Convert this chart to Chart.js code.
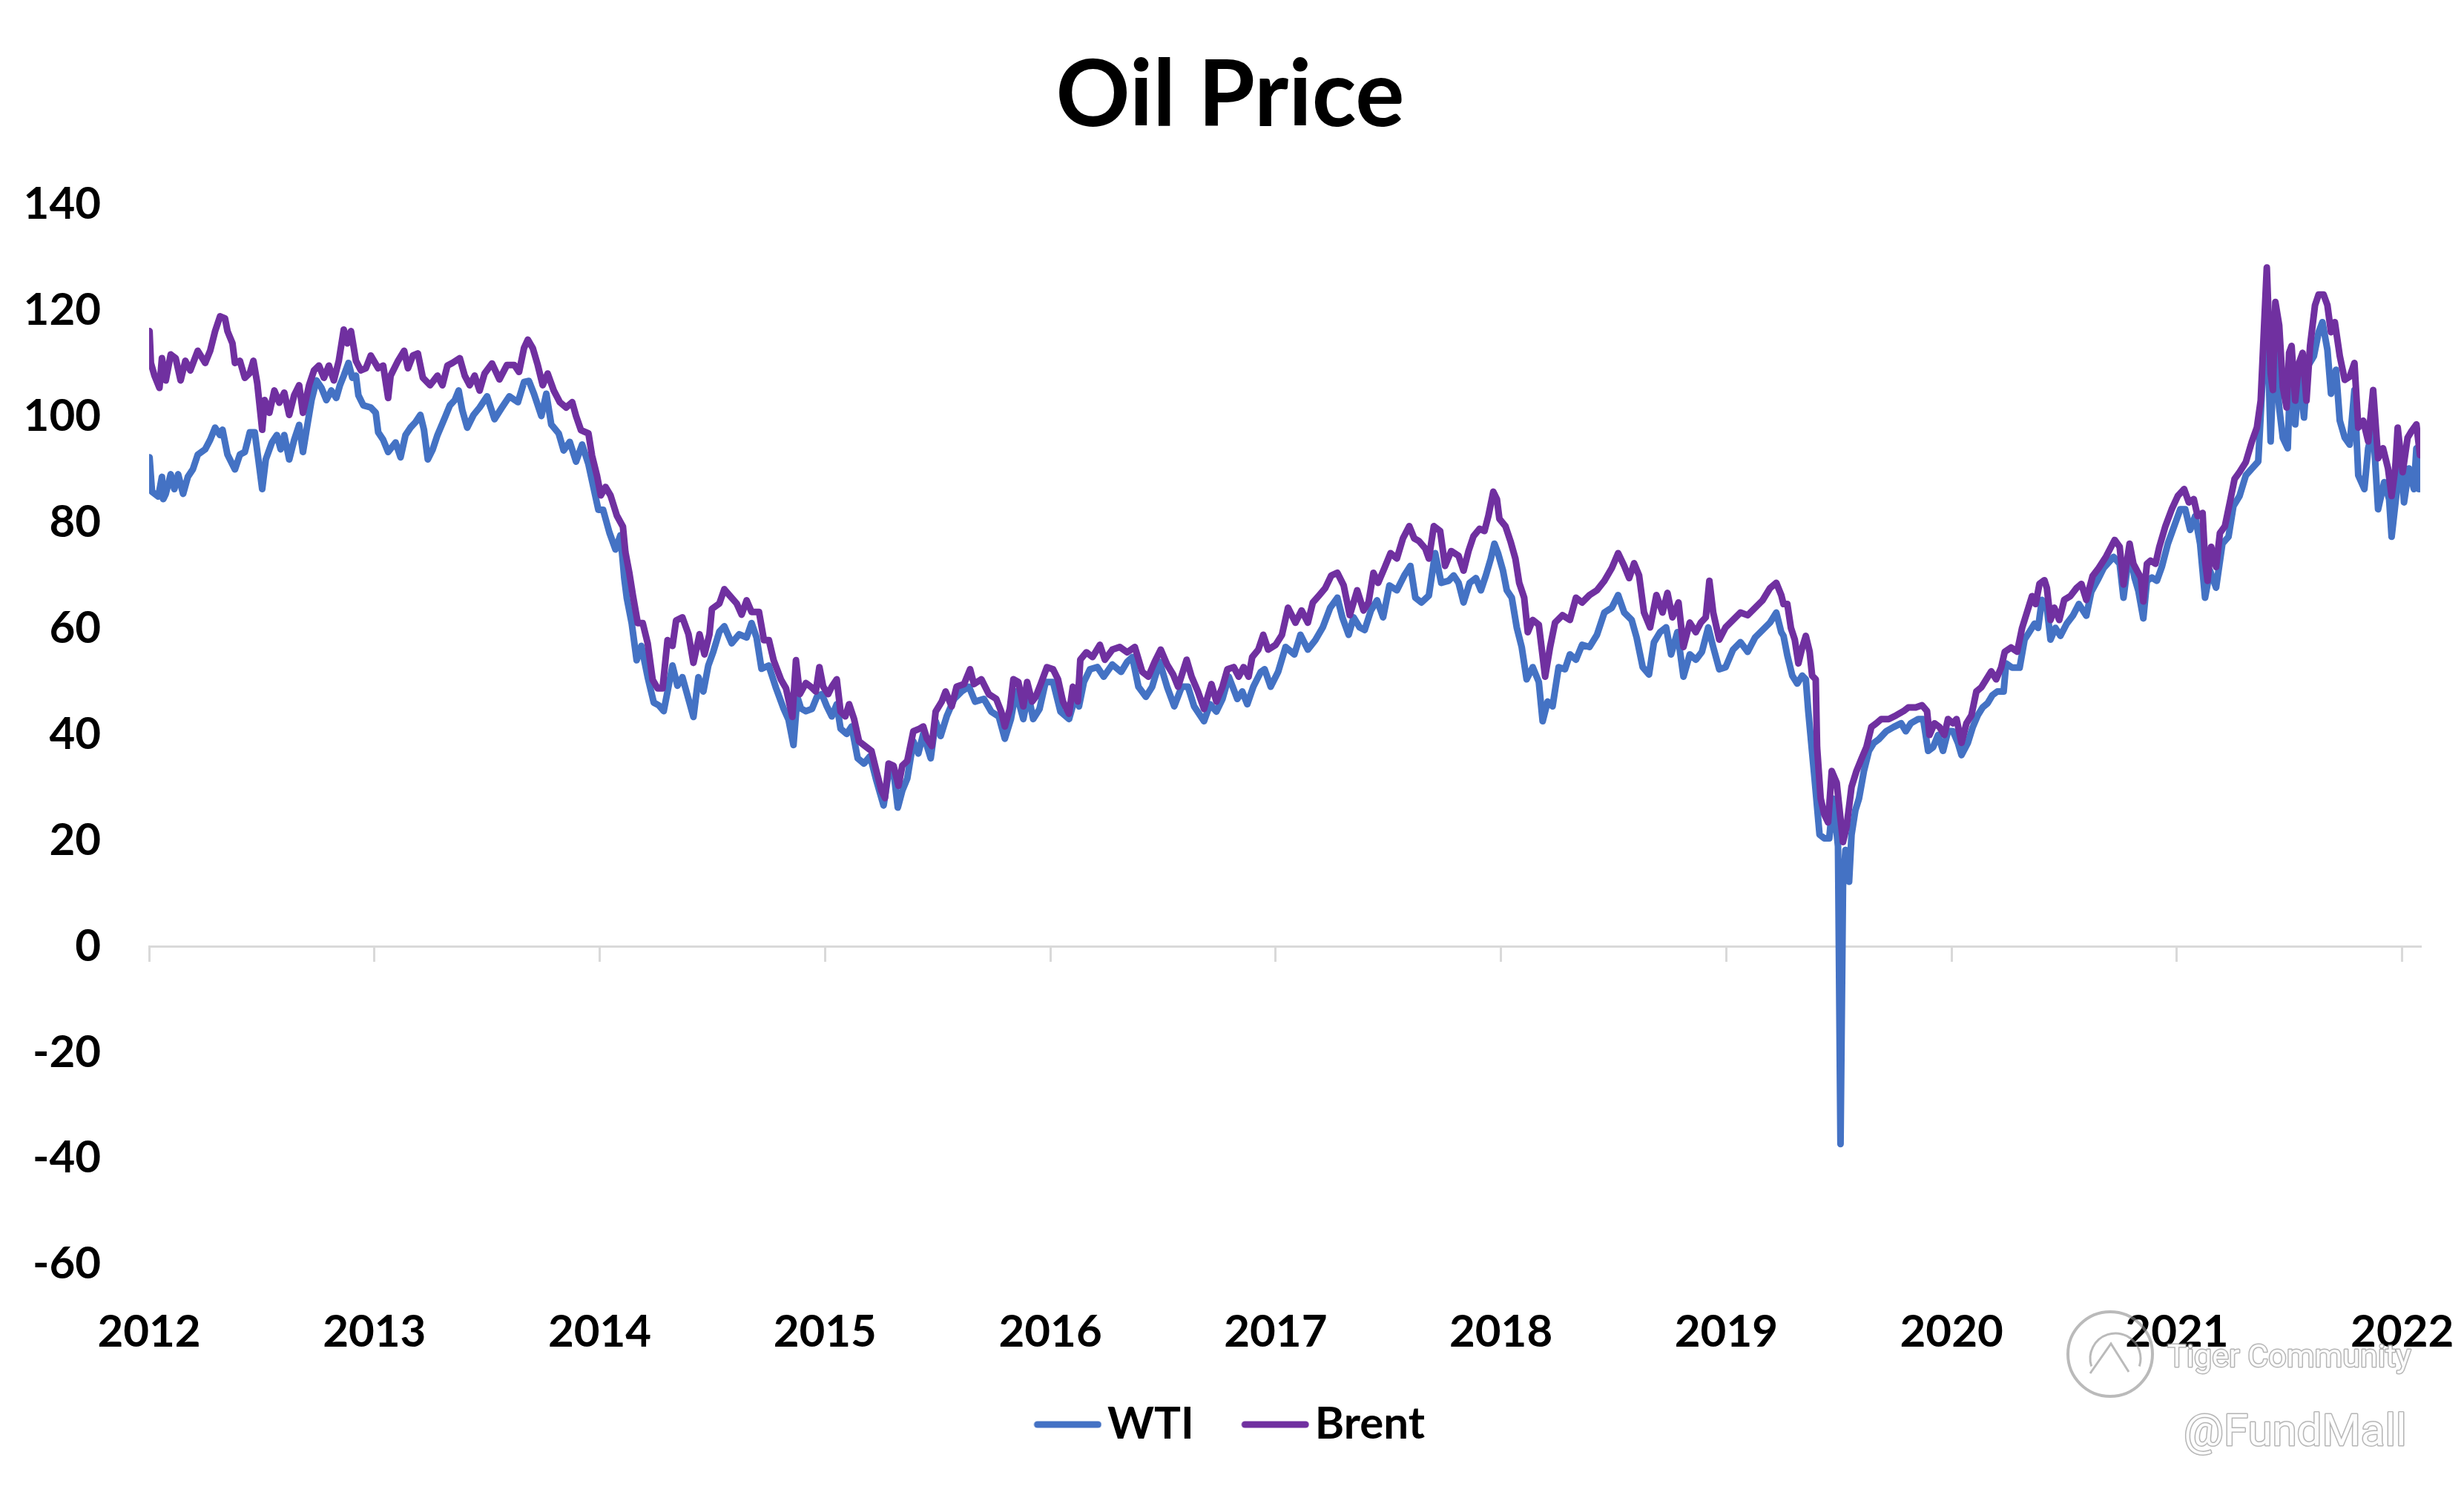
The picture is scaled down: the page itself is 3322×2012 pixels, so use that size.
<!DOCTYPE html>
<html>
<head>
<meta charset="utf-8">
<title>Oil Price</title>
<script src="https://cdn.jsdelivr.net/npm/chart.js@4.4.1/dist/chart.umd.min.js"></script>
<style>
  html, body { margin: 0; padding: 0; background: #fff; }
  #wrap { width: 3322px; height: 2012px; }
</style>
</head>
<body>
<div id="wrap"><canvas id="chart"></canvas></div>
<script>
// x values are positions on the chart's own year axis (2012 .. 2022)
const yearMin = 2012;
const yearMax = 2022.08;
const priceMin = -60;
const priceMax = 140;
const priceStep = 20;

const wtiDates = [
  2012.002, 2012.013, 2012.041, 2012.057, 2012.063, 2012.074, 2012.096, 2012.112, 2012.129, 2012.151, 2012.172, 2012.194, 2012.216, 2012.249, 2012.271, 2012.293, 2012.315, 2012.326, 2012.348, 2012.381, 2012.403, 2012.425, 2012.447, 2012.469, 2012.485, 2012.502, 2012.518, 2012.545, 2012.567, 2012.584, 2012.600, 2012.622, 2012.644, 2012.666, 2012.683, 2012.699, 2012.721, 2012.743, 2012.765, 2012.787, 2012.809, 2012.831, 2012.847, 2012.864, 2012.885, 2012.902, 2012.918, 2012.929, 2012.951, 2012.984, 2013.006, 2013.017, 2013.039, 2013.061, 2013.094, 2013.116, 2013.138, 2013.160, 2013.182, 2013.204, 2013.220, 2013.237, 2013.259, 2013.280, 2013.313, 2013.335, 2013.357, 2013.374, 2013.390, 2013.412, 2013.440,
  2013.467, 2013.500, 2013.533, 2013.566, 2013.599, 2013.637, 2013.664, 2013.686, 2013.708, 2013.741, 2013.763, 2013.785, 2013.818, 2013.840, 2013.867, 2013.895, 2013.922, 2013.950, 2013.972, 2013.994, 2014.015, 2014.043, 2014.070, 2014.092, 2014.109, 2014.120, 2014.142, 2014.164, 2014.185, 2014.213, 2014.240, 2014.262, 2014.284, 2014.301, 2014.323, 2014.345, 2014.367, 2014.388, 2014.416, 2014.438, 2014.460, 2014.482, 2014.504, 2014.531, 2014.553, 2014.586, 2014.619, 2014.652, 2014.674, 2014.696, 2014.718, 2014.750, 2014.783, 2014.816, 2014.838, 2014.860, 2014.877, 2014.893, 2014.915,
  2014.942, 2014.964, 2014.986, 2015.008, 2015.030, 2015.052, 2015.069, 2015.096, 2015.118, 2015.145, 2015.173, 2015.200, 2015.228, 2015.260, 2015.282, 2015.304, 2015.323, 2015.343, 2015.365, 2015.392, 2015.414, 2015.436, 2015.469, 2015.491, 2015.513, 2015.540, 2015.573, 2015.606, 2015.639, 2015.666, 2015.705, 2015.738, 2015.771, 2015.798, 2015.825, 2015.847, 2015.880, 2015.902, 2015.924, 2015.952, 2015.979, 2016.012, 2016.045, 2016.083, 2016.111, 2016.127, 2016.149, 2016.176, 2016.209, 2016.237, 2016.275, 2016.314, 2016.341,
  2016.364, 2016.391, 2016.424, 2016.452, 2016.485, 2016.518, 2016.550, 2016.583, 2016.611, 2016.638, 2016.682, 2016.709, 2016.737, 2016.764, 2016.792, 2016.830, 2016.852, 2016.874, 2016.901, 2016.934, 2016.951, 2016.978, 2017.011, 2017.044, 2017.083, 2017.110, 2017.143, 2017.176, 2017.209, 2017.242, 2017.274, 2017.296, 2017.324, 2017.346, 2017.373, 2017.395, 2017.423, 2017.450, 2017.477, 2017.505, 2017.538, 2017.571, 2017.598, 2017.620, 2017.647, 2017.680, 2017.708, 2017.735, 2017.768,
  2017.790, 2017.812, 2017.834, 2017.861, 2017.889, 2017.911, 2017.933, 2017.955, 2017.971, 2017.987, 2018.009, 2018.026, 2018.048, 2018.070, 2018.092, 2018.114, 2018.141, 2018.168, 2018.185, 2018.207, 2018.229, 2018.256, 2018.284, 2018.306, 2018.333, 2018.360, 2018.393, 2018.426, 2018.459, 2018.492, 2018.520, 2018.547, 2018.580, 2018.602, 2018.629, 2018.657, 2018.679, 2018.706, 2018.733, 2018.755, 2018.783, 2018.810, 2018.838, 2018.865, 2018.892, 2018.920, 2018.942, 2018.969, 2018.997, 2019.030, 2019.063, 2019.095, 2019.128, 2019.161, 2019.194, 2019.222, 2019.244,
  2019.254, 2019.271, 2019.293, 2019.315, 2019.337, 2019.353, 2019.364, 2019.392, 2019.414, 2019.435, 2019.457, 2019.474, 2019.496, 2019.507, 2019.518, 2019.529, 2019.545, 2019.556, 2019.573, 2019.589, 2019.611, 2019.633, 2019.655, 2019.677, 2019.710, 2019.743, 2019.776, 2019.797, 2019.819, 2019.852, 2019.874, 2019.896, 2019.918, 2019.940, 2019.962, 2019.984, 2020.006, 2020.028, 2020.044, 2020.072, 2020.094, 2020.116, 2020.138, 2020.160, 2020.181, 2020.203, 2020.231, 2020.242, 2020.269, 2020.302, 2020.324, 2020.346, 2020.368, 2020.384, 2020.401, 2020.423, 2020.439, 2020.461, 2020.483, 2020.511, 2020.538, 2020.565, 2020.598, 2020.620, 2020.648, 2020.675,
  2020.719, 2020.746, 2020.763, 2020.790, 2020.812, 2020.829, 2020.851, 2020.867, 2020.889, 2020.911, 2020.933, 2020.960, 2020.988, 2021.015, 2021.037, 2021.059, 2021.081, 2021.103, 2021.125, 2021.147, 2021.174, 2021.202, 2021.229, 2021.251, 2021.278, 2021.306, 2021.333, 2021.361, 2021.383, 2021.399, 2021.416, 2021.432, 2021.454, 2021.470, 2021.492, 2021.503, 2021.525, 2021.542, 2021.564, 2021.580, 2021.608, 2021.629, 2021.646, 2021.668, 2021.684, 2021.706, 2021.723, 2021.745, 2021.767, 2021.788, 2021.805, 2021.832, 2021.849, 2021.871, 2021.893, 2021.920, 2021.942, 2021.953, 2021.975, 2021.991, 2022.008, 2022.030, 2022.052, 2022.063, 2022.074, 2022.090
];

const wtiPrices = [
  92.3, 85.8, 84.9, 88.6, 84.4, 85.4, 89.1, 86.3, 89.1, 85.4, 88.6, 90.0, 92.8, 93.8, 95.6, 97.9, 96.5, 97.5, 92.8, 90.0, 92.8, 93.3, 97.0, 97.0, 91.9, 86.3, 91.9, 95.1, 96.5, 93.8, 96.5, 91.9, 95.6, 98.4, 93.3, 97.5, 103.1, 106.8, 105.4, 103.1, 104.9, 103.5, 105.9, 107.7, 110.1, 107.3, 107.7, 104.0, 102.1, 101.7, 100.7, 97.0, 95.6, 93.3, 95.1, 92.3, 96.5, 97.9, 98.9, 100.3, 97.5, 91.9, 93.8, 96.5, 99.8, 102.1, 103.1, 104.9, 101.2, 97.9, 100.3,
  101.7, 103.8, 99.5, 101.7, 103.8, 102.7, 106.5, 106.7, 104.3, 100.1, 104.3, 98.5, 96.8, 93.6, 95.2, 91.5, 94.7, 91.0, 86.7, 82.4, 82.4, 78.1, 74.9, 77.6, 69.5, 65.8, 61.0, 54.0, 56.7, 50.8, 46.0, 45.5, 44.4, 48.1, 53.0, 49.2, 50.8, 47.6, 43.3, 50.8, 48.1, 53.0, 55.6, 59.4, 60.4, 57.2, 58.9, 58.3, 61.0, 58.3, 52.4, 53.0, 48.7, 44.9, 42.8, 38.0, 47.1, 44.9, 44.4,
  44.8, 47.1, 47.6, 45.3, 43.4, 45.7, 41.1, 40.1, 41.5, 35.5, 34.5, 35.9, 31.3, 26.6, 32.7, 33.1, 26.2, 29.4, 31.7, 38.7, 36.4, 40.1, 35.5, 42.5, 39.7, 43.4, 46.7, 48.1, 49.0, 46.2, 46.7, 44.3, 43.4, 39.2, 42.9, 48.1, 42.9, 47.6, 42.9, 44.8, 49.9, 49.9, 44.3, 42.9, 47.1, 45.3, 49.9, 52.3, 52.7, 50.9, 53.2, 51.8, 53.7,
  54.6, 49.0, 47.1, 49.0, 53.7, 49.0, 45.3, 49.0, 49.0, 45.3, 42.5, 45.7, 44.3, 46.7, 50.9, 46.7, 48.1, 45.7, 49.0, 51.8, 52.3, 49.0, 51.8, 56.5, 55.1, 58.8, 56.0, 57.8, 60.2, 63.9, 65.8, 62.1, 58.8, 62.1, 60.2, 59.7, 63.4, 65.3, 62.1, 68.1, 67.2, 70.0, 71.8, 65.8, 64.9, 66.2, 74.2, 68.6, 69.0,
  70.0, 68.6, 64.9, 68.6, 69.5, 67.2, 70.0, 73.2, 76.0, 74.2, 70.9, 67.2, 65.8, 60.2, 56.5, 50.4, 52.7, 49.9, 42.5, 46.2, 45.3, 52.7, 52.3, 55.1, 54.1, 56.9, 56.5, 58.8, 63.0, 63.9, 66.3, 63.0, 61.6, 58.3, 52.7, 51.3, 57.4, 59.3, 60.2, 55.1, 59.3, 50.9, 55.1, 54.1, 55.6, 60.2, 56.5, 52.3, 52.7, 56.0, 57.4, 55.6, 58.3, 59.7, 61.1, 63.0, 59.3,
  58.6, 54.9, 51.1, 49.6, 51.1, 50.4, 44.4, 31.6, 21.1, 20.4, 20.4, 27.9, 18.9, -37.3, 11.4, 18.2, 12.2, 21.1, 25.7, 27.9, 33.1, 36.9, 38.4, 39.1, 40.6, 41.4, 42.1, 40.6, 42.1, 42.9, 42.9, 36.9, 37.6, 39.9, 36.9, 40.6, 40.6, 38.4, 36.1, 38.4, 41.4, 43.6, 45.1, 45.9, 47.4, 48.1, 48.1, 53.4, 52.6, 52.6, 57.9, 59.4, 60.9, 60.1, 65.4, 63.9, 57.9, 60.1, 58.6, 60.9, 62.4, 64.6, 62.4, 66.9, 69.1, 71.4,
  73.5, 72.2, 65.8, 74.8, 69.6, 67.1, 61.9, 69.0, 69.6, 69.0, 71.6, 76.0, 79.3, 82.5, 82.5, 78.6, 81.2, 76.0, 65.8, 70.9, 67.7, 76.0, 77.3, 83.1, 85.0, 88.9, 90.2, 91.5, 109.4, 121.0, 95.3, 113.3, 101.7, 96.0, 94.0, 108.2, 98.5, 108.2, 99.8, 109.4, 111.4, 115.9, 117.8, 112.6, 104.3, 108.8, 99.2, 96.0, 94.7, 105.0, 88.9, 86.3, 94.0, 97.9, 82.5, 87.6, 84.4, 77.3, 85.6, 94.0, 83.8, 90.2, 86.3, 94.0, 86.3, 88.2
];

const brentDates = [
  2012.002, 2012.008, 2012.024, 2012.046, 2012.057, 2012.074, 2012.096, 2012.118, 2012.140, 2012.161, 2012.183, 2012.216, 2012.249, 2012.271, 2012.293, 2012.315, 2012.337, 2012.348, 2012.370, 2012.381, 2012.403, 2012.425, 2012.447, 2012.463, 2012.480, 2012.502, 2012.513, 2012.534, 2012.556, 2012.578, 2012.600, 2012.622, 2012.644, 2012.666, 2012.683, 2012.710, 2012.732, 2012.754, 2012.776, 2012.798, 2012.820, 2012.842, 2012.864, 2012.880, 2012.896, 2012.918, 2012.940, 2012.962, 2012.984, 2013.017, 2013.039, 2013.061, 2013.072, 2013.105, 2013.132, 2013.149, 2013.171, 2013.193, 2013.215, 2013.247, 2013.280, 2013.302, 2013.324, 2013.346, 2013.379, 2013.401, 2013.423, 2013.445,
  2013.467, 2013.489, 2013.522, 2013.555, 2013.588, 2013.621, 2013.642, 2013.664, 2013.681, 2013.703, 2013.725, 2013.747, 2013.769, 2013.796, 2013.823, 2013.851, 2013.878, 2013.895, 2013.917, 2013.950, 2013.966, 2013.988, 2014.005, 2014.026, 2014.048, 2014.076, 2014.103, 2014.114, 2014.131, 2014.147, 2014.169, 2014.191, 2014.213, 2014.235, 2014.257, 2014.279, 2014.301, 2014.323, 2014.339, 2014.367, 2014.394, 2014.416, 2014.443, 2014.465, 2014.487, 2014.498, 2014.531, 2014.553, 2014.575, 2014.608, 2014.630, 2014.652, 2014.674, 2014.707, 2014.729, 2014.751, 2014.772, 2014.805, 2014.827, 2014.855, 2014.871, 2014.888, 2014.915,
  2014.937, 2014.959, 2014.975, 2014.992, 2015.014, 2015.030, 2015.052, 2015.069, 2015.090, 2015.107, 2015.129, 2015.151, 2015.178, 2015.206, 2015.228, 2015.250, 2015.266, 2015.282, 2015.304, 2015.326, 2015.343, 2015.365, 2015.392, 2015.420, 2015.436, 2015.452, 2015.474, 2015.491, 2015.518, 2015.535, 2015.562, 2015.584, 2015.617, 2015.644, 2015.661, 2015.694, 2015.727, 2015.760, 2015.782, 2015.798, 2015.820, 2015.836, 2015.858, 2015.880, 2015.897, 2015.919, 2015.935, 2015.957, 2015.985, 2016.012, 2016.034, 2016.056, 2016.083, 2016.100, 2016.122, 2016.133, 2016.160, 2016.187, 2016.220, 2016.242, 2016.275, 2016.308, 2016.341,
  2016.375, 2016.408, 2016.435, 2016.463, 2016.490, 2016.518, 2016.545, 2016.567, 2016.605, 2016.627, 2016.655, 2016.682, 2016.715, 2016.737, 2016.764, 2016.786, 2016.814, 2016.836, 2016.858, 2016.880, 2016.896, 2016.923, 2016.945, 2016.967, 2017.000, 2017.028, 2017.055, 2017.088, 2017.115, 2017.143, 2017.165, 2017.192, 2017.220, 2017.247, 2017.274, 2017.302, 2017.329, 2017.362, 2017.390, 2017.412, 2017.434, 2017.455, 2017.483, 2017.510, 2017.538, 2017.565, 2017.593, 2017.615, 2017.636, 2017.664, 2017.680, 2017.702, 2017.730, 2017.752, 2017.779,
  2017.812, 2017.834, 2017.856, 2017.878, 2017.905, 2017.927, 2017.944, 2017.966, 2017.982, 2017.993, 2018.020, 2018.042, 2018.064, 2018.081, 2018.103, 2018.119, 2018.141, 2018.168, 2018.196, 2018.218, 2018.240, 2018.273, 2018.306, 2018.333, 2018.360, 2018.393, 2018.426, 2018.459, 2018.492, 2018.520, 2018.547, 2018.569, 2018.591, 2018.613, 2018.635, 2018.662, 2018.690, 2018.717, 2018.739, 2018.761, 2018.788, 2018.810, 2018.838, 2018.865, 2018.887, 2018.909, 2018.925, 2018.942, 2018.969, 2018.997, 2019.030, 2019.063, 2019.095, 2019.128, 2019.161, 2019.194, 2019.222, 2019.244,
  2019.254, 2019.271, 2019.287, 2019.304, 2019.320, 2019.337, 2019.353, 2019.370, 2019.381, 2019.397, 2019.403, 2019.419, 2019.435, 2019.452, 2019.468, 2019.490, 2019.507, 2019.518, 2019.534, 2019.556, 2019.578, 2019.600, 2019.622, 2019.644, 2019.666, 2019.688, 2019.721, 2019.754, 2019.787, 2019.808, 2019.841, 2019.869, 2019.891, 2019.902, 2019.924, 2019.946, 2019.968, 2019.984, 2020.006, 2020.022, 2020.044, 2020.066, 2020.088, 2020.110, 2020.132, 2020.154, 2020.176, 2020.198, 2020.220, 2020.236, 2020.264, 2020.291, 2020.313, 2020.335, 2020.357, 2020.373, 2020.390, 2020.412, 2020.423, 2020.439, 2020.456, 2020.478, 2020.500, 2020.527, 2020.554, 2020.576, 2020.598, 2020.626, 2020.653, 2020.686,
  2020.724, 2020.746, 2020.763, 2020.790, 2020.807, 2020.823, 2020.840, 2020.851, 2020.867, 2020.883, 2020.905, 2020.922, 2020.949, 2020.977, 2021.004, 2021.032, 2021.053, 2021.075, 2021.092, 2021.114, 2021.125, 2021.136, 2021.152, 2021.174, 2021.191, 2021.213, 2021.235, 2021.256, 2021.278, 2021.306, 2021.333, 2021.355, 2021.372, 2021.383, 2021.399, 2021.416, 2021.426, 2021.437, 2021.454, 2021.470, 2021.487, 2021.498, 2021.509, 2021.525, 2021.542, 2021.558, 2021.575, 2021.591, 2021.613, 2021.629, 2021.651, 2021.668, 2021.684, 2021.701, 2021.723, 2021.745, 2021.767, 2021.788, 2021.805, 2021.827, 2021.849, 2021.871, 2021.893, 2021.915, 2021.937, 2021.953, 2021.969, 2021.980, 2022.002, 2022.024, 2022.041, 2022.063, 2022.079, 2022.090
];

const brentPrices = [
  116.1, 110.1, 107.7, 105.4, 111.0, 106.8, 111.7, 111.0, 106.8, 110.5, 108.7, 112.4, 110.1, 112.4, 116.1, 118.9, 118.5, 116.1, 113.8, 110.1, 110.5, 107.3, 108.2, 110.5, 106.3, 97.5, 103.1, 100.7, 104.9, 102.6, 104.5, 100.3, 104.0, 105.9, 100.7, 105.9, 108.7, 109.6, 107.3, 109.6, 106.8, 110.5, 116.4, 113.8, 116.1, 110.5, 108.7, 109.1, 111.5, 109.1, 109.6, 103.5, 107.7, 110.5, 112.4, 109.1, 111.5, 111.9, 107.3, 105.9, 107.7, 105.9, 109.6, 110.1, 111.0, 107.7, 105.9, 107.7,
  104.9, 108.1, 110.0, 107.0, 109.7, 109.7, 108.4, 112.9, 114.5, 112.9, 109.7, 105.9, 108.1, 104.9, 102.7, 101.7, 102.7, 100.1, 97.4, 96.8, 92.6, 88.8, 85.1, 86.7, 85.1, 81.3, 79.2, 74.4, 70.6, 66.3, 61.0, 61.0, 57.2, 50.3, 48.7, 48.7, 57.8, 56.7, 61.5, 62.1, 58.9, 53.5, 58.9, 55.1, 58.9, 63.7, 64.7, 67.4, 66.3, 64.7, 62.6, 65.3, 63.1, 63.1, 57.8, 57.8, 54.0, 50.3, 48.7, 43.3, 54.0, 47.6, 49.7,
  49.0, 48.1, 52.7, 49.0, 47.6, 49.0, 50.4, 44.3, 43.4, 45.7, 42.9, 38.7, 37.8, 36.9, 33.1, 29.4, 28.0, 34.5, 34.1, 30.3, 34.1, 35.0, 40.6, 41.1, 41.5, 39.2, 37.8, 44.3, 46.2, 48.1, 45.3, 49.0, 49.5, 52.3, 49.5, 50.4, 47.6, 46.7, 44.3, 41.5, 44.8, 50.4, 49.9, 45.3, 49.9, 46.2, 47.1, 49.5, 52.7, 52.3, 50.4, 46.2, 43.9, 49.0, 46.2, 54.1, 55.5, 54.6, 56.9, 54.1, 56.0, 56.5, 55.5,
  56.5, 51.8, 50.9, 53.7, 56.0, 53.2, 51.3, 49.0, 54.1, 50.9, 48.1, 44.8, 49.5, 46.2, 49.0, 52.3, 52.7, 50.9, 52.7, 50.9, 54.6, 56.0, 58.8, 56.0, 56.9, 58.8, 63.9, 61.1, 63.4, 61.1, 64.9, 66.2, 67.6, 70.0, 70.5, 68.1, 62.5, 67.2, 63.4, 64.9, 70.5, 68.6, 71.4, 74.2, 73.2, 77.0, 79.3, 77.0, 76.5, 75.1, 73.2, 79.3, 78.4, 71.8, 74.6,
  73.7, 70.9, 74.6, 77.4, 78.8, 78.4, 81.2, 85.8, 84.4, 80.7, 79.3, 76.5, 73.2, 68.6, 65.8, 59.3, 61.6, 60.7, 50.9, 56.5, 61.1, 62.5, 61.6, 65.8, 64.9, 66.3, 67.2, 69.0, 71.4, 74.2, 71.8, 69.5, 72.3, 70.0, 63.0, 60.2, 66.3, 63.0, 66.7, 62.1, 64.9, 56.5, 61.1, 59.3, 61.1, 62.1, 69.0, 63.0, 57.9, 60.2, 61.6, 63.0, 62.5, 63.9, 65.3, 67.6, 68.6, 66.3,
  64.6, 64.6, 60.1, 57.9, 53.4, 56.4, 58.6, 55.6, 51.1, 50.4, 37.6, 27.9, 24.9, 23.4, 33.1, 30.9, 24.1, 19.7, 22.6, 30.1, 33.1, 35.4, 37.6, 41.4, 42.1, 42.9, 42.9, 43.6, 44.4, 45.1, 45.1, 45.5, 44.4, 39.9, 42.1, 41.4, 39.9, 42.9, 42.1, 42.9, 38.4, 42.1, 43.6, 48.1, 48.9, 50.4, 51.9, 50.4, 52.6, 55.6, 56.4, 55.6, 60.1, 63.1, 66.1, 64.6, 68.4, 69.1, 67.6, 61.6, 63.9, 61.6, 65.4, 66.1, 67.6, 68.4, 65.4, 69.9, 71.4, 73.6,
  76.7, 75.4, 68.3, 76.0, 72.2, 70.9, 69.6, 65.1, 72.2, 72.8, 72.2, 75.4, 79.3, 82.5, 85.0, 86.3, 83.8, 84.4, 81.2, 81.8, 72.8, 69.0, 75.4, 71.6, 78.0, 79.3, 83.8, 88.2, 89.5, 91.4, 95.3, 97.9, 103.0, 113.3, 128.1, 108.2, 105.0, 121.6, 117.2, 105.6, 101.7, 112.0, 113.3, 103.0, 110.1, 112.0, 103.0, 113.3, 121.0, 123.0, 123.0, 121.0, 115.9, 117.8, 111.4, 106.9, 107.5, 110.1, 97.9, 99.2, 95.3, 105.0, 92.1, 94.0, 90.2, 85.0, 90.2, 97.9, 89.5, 96.0, 97.2, 98.5, 92.7, 95.3
];

const seriesNames = ["WTI", "Brent"];
const seriesColors = ["#4472C4", "#7030A0"];

function toPoints(xs, ys) {
  const n = Math.min(xs.length, ys.length);
  const out = [];
  for (let i = 0; i < n; i++) out.push({ x: xs[i], y: ys[i] });
  return out;
}

// legend swatch: a short round-capped line that sits close to its label
const swatchBox = 69;
function legendLine(color) {
  const c = document.createElement("canvas");
  c.width = 114;
  c.height = 20;
  const g = c.getContext("2d");
  g.strokeStyle = color;
  g.lineWidth = 9;
  g.lineCap = "round";
  g.beginPath();
  g.moveTo(27, 10);
  g.lineTo(109, 10);
  g.stroke();
  return c;
}

// the title and legend sit a little right of the canvas centre in the original
const nudge = {
  id: "nudge",
  afterLayout(c) {
    const shift = (box, dx) => {
      if (!box) return;
      box.left += dx;
      box.right += dx;
    };
    shift(c.titleBlock, 27);
    shift(c.legend, 26);
  }
};

// faint watermark in the bottom-right corner
const watermark = {
  id: "watermark",
  afterDraw(c) {
    const ctx = c.ctx;
    ctx.save();
    ctx.strokeStyle = "rgba(140,140,140,0.6)";
    ctx.lineWidth = 4;
    ctx.beginPath();
    ctx.arc(2845, 1826, 57, 0, Math.PI * 2);
    ctx.stroke();
    ctx.lineWidth = 3;
    ctx.beginPath();
    ctx.arc(2852, 1832, 34, Math.PI * 0.9, Math.PI * 2.1);
    ctx.stroke();
    ctx.beginPath();
    ctx.moveTo(2818, 1852);
    ctx.lineTo(2846, 1812);
    ctx.lineTo(2870, 1850);
    ctx.stroke();

    ctx.textBaseline = "middle";
    ctx.textAlign = "left";
    ctx.lineJoin = "round";
    ctx.font = "43px Roboto";
    ctx.lineWidth = 3;
    ctx.strokeStyle = "rgba(150,150,150,0.7)";
    ctx.fillStyle = "rgba(255,255,255,0.95)";
    ctx.strokeText("Tiger Community", 2922, 1832);
    ctx.fillText("Tiger Community", 2922, 1832);
    ctx.font = "60px Roboto";
    ctx.strokeText("@FundMall", 2944, 1934);
    ctx.fillText("@FundMall", 2944, 1934);
    ctx.restore();
  }
};

function draw() {
  Chart.defaults.font.family = "Lato";
  Chart.defaults.color = "#000";

  const ctx = document.querySelector("#chart").getContext("2d");

  new Chart(ctx, {
    type: "line",
    data: {
      datasets: [
        {
          label: seriesNames[0],
          data: toPoints(wtiDates, wtiPrices),
          borderColor: seriesColors[0],
          backgroundColor: seriesColors[0],
          pointStyle: legendLine(seriesColors[0]),
          borderWidth: 9,
          order: 1,
        },
        {
          label: seriesNames[1],
          data: toPoints(brentDates, brentPrices),
          borderColor: seriesColors[1],
          backgroundColor: seriesColors[1],
          pointStyle: legendLine(seriesColors[1]),
          borderWidth: 9,
          order: 0,
        },
      ],
    },
    options: {
      responsive: true,
      maintainAspectRatio: false,
      devicePixelRatio: 1,
      animation: false,
      layout: { padding: { left: 0, right: 59, top: 0, bottom: 51 } },
      elements: {
        point: { radius: 0, hoverRadius: 0 },
        line: { tension: 0, borderJoinStyle: "round", borderCapStyle: "round" },
      },
      plugins: {
        tooltip: { enabled: false },
        title: {
          display: true,
          text: "Oil Price",
          color: "#000",
          font: { size: 124, weight: "bold", lineHeight: 1.2 },
          padding: { top: 56, bottom: 71 },
        },
        legend: {
          position: "bottom",
          labels: {
            usePointStyle: true,
            pointStyleWidth: swatchBox,
            padding: 64,
            color: "#000",
            font: { size: 60, weight: "bold" },
            sort: (a, b) => a.datasetIndex - b.datasetIndex,
          },
        },
      },
      scales: {
        x: {
          type: "linear",
          position: "bottom",
          min: yearMin,
          max: yearMax,
          grid: { display: false },
          border: { display: false },
          ticks: {
            stepSize: 1,
            includeBounds: false,
            padding: 48,
            color: "#000",
            font: { size: 60, weight: "bold" },
            callback: (v) => String(v),
          },
          afterFit: (s) => {
            s.height = 122;
            s.paddingLeft = 0;
            s.paddingRight = 0;
          },
        },
        zero: {
          type: "linear",
          axis: "x",
          position: { y: 0 },
          min: yearMin,
          max: yearMax,
          grid: {
            display: true,
            drawOnChartArea: false,
            drawTicks: true,
            tickLength: 19,
            color: "#d9d9d9",
            lineWidth: 3,
          },
          border: { display: true, color: "#d9d9d9", width: 3 },
          ticks: { stepSize: 1, includeBounds: false, display: false },
          afterFit: (s) => {
            s.height = 0;
            s.paddingLeft = 0;
            s.paddingRight = 0;
          },
        },
        y: {
          min: priceMin,
          max: priceMax,
          grid: { display: false },
          border: { display: false },
          ticks: {
            stepSize: priceStep,
            padding: 57,
            color: "#000",
            font: { size: 60, weight: "bold" },
          },
          afterFit: (s) => { s.width = 201; },
        },
      },
    },
    plugins: [nudge, watermark],
  });
}

Promise.all([
  document.fonts.load("bold 60px Lato"),
  document.fonts.load("46px Roboto"),
]).then(draw, draw);
</script>
</body>
</html>
